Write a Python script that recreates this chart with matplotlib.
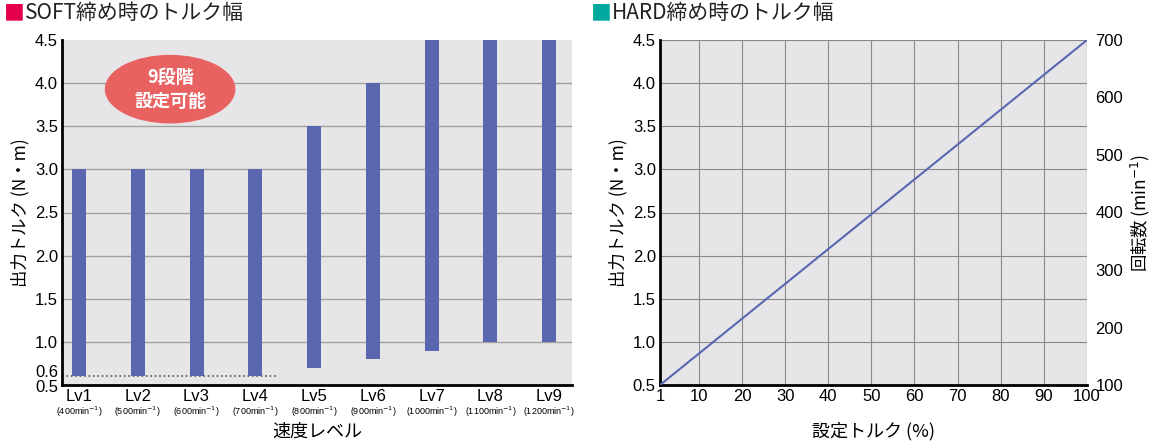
import matplotlib.pyplot as plt
from matplotlib.patches import Ellipse
import numpy as np

plt.rcParams['font.family'] = ['Noto Sans CJK JP', 'DejaVu Sans']
num_font = ['Liberation Sans', 'Noto Sans CJK JP']

# SOFT chart data
levels = ['Lv1', 'Lv2', 'Lv3', 'Lv4', 'Lv5', 'Lv6', 'Lv7', 'Lv8', 'Lv9']
speeds = ['400', '500', '600', '700', '800', '900', '1000', '1100', '1200']
torque_min = [0.6, 0.6, 0.6, 0.6, 0.7, 0.8, 0.9, 1.0, 1.0]
torque_max = [3.0, 3.0, 3.0, 3.0, 3.5, 4.0, 4.5, 4.5, 4.5]
soft_yticks = [0.5, 0.6, 1.0, 1.5, 2.0, 2.5, 3.0, 3.5, 4.0, 4.5]

# HARD chart data
hard_setting = [1, 100]
hard_torque = [0.5, 4.5]
hard_xticks = [1, 10, 20, 30, 40, 50, 60, 70, 80, 90, 100]
hard_yticks = [0.5, 1.0, 1.5, 2.0, 2.5, 3.0, 3.5, 4.0, 4.5]
rpm_ticks = [100, 200, 300, 400, 500, 600, 700]

bar_color = '#5b66b1'
bg = '#e6e6e8'

fig = plt.figure(figsize=(11.6, 4.42), dpi=100)

# ---- left chart ----
ax1 = fig.add_axes([62/1160, 1 - 385/442, 510/1160, 345/442])
ax1.set_facecolor(bg)
x = np.arange(len(levels))
ax1.bar(x, np.array(torque_max) - np.array(torque_min), bottom=torque_min,
        width=0.24, color=bar_color, zorder=3)
ax1.set_xlim(-0.29, len(levels) - 1 + 0.39)
ax1.set_ylim(0.5, 4.5)
ax1.set_yticks(soft_yticks)
# 0.5 and 0.6 are crowded, so they are drawn by hand slightly apart
ylabels = ['' if v < 1 else f'{v:.1f}' for v in soft_yticks]
ax1.set_yticklabels(ylabels, fontsize=12, family=num_font)
for v, dy in [(0.5, -0.025), (0.6, 0.045)]:
    ax1.text(-0.007, v + dy, f'{v:.1f}', transform=ax1.get_yaxis_transform(),
             ha='right', va='center', fontsize=12, family=num_font)
for v in np.arange(1.0, 4.5, 0.5):
    ax1.axhline(v, color='#a0a0a0', lw=1, zorder=1)
ax1.plot([-0.29, 3.35], [0.6, 0.6], ls=':', color='#555555', lw=1.2, zorder=2)
ax1.set_xticks(x)
ax1.set_xticklabels(levels, fontsize=12, family=num_font)
ax1.tick_params(length=0, pad=3)
for i, s in enumerate(speeds):
    ax1.text(i, -0.058, f'({s}min$^{{-1}}$)', transform=ax1.get_xaxis_transform(),
             ha='center', va='top', fontsize=6.5, family=num_font)
ax1.set_ylabel('出力トルク (N・m)', fontsize=12.5, labelpad=4)
for sp in ['top', 'right']:
    ax1.spines[sp].set_visible(False)
for sp in ['left', 'bottom']:
    ax1.spines[sp].set_linewidth(2)
ax1.add_patch(Ellipse((1.55, 3.93), 2.2, 0.78, color='#e96262', zorder=4))
ax1.text(1.55, 3.93, '9段階\n設定可能', color='white', fontsize=13,
         ha='center', va='center', linespacing=1.35, zorder=5, fontweight='bold')
fig.text(317/1160, 1 - 432/442, '速度レベル', fontsize=13, ha='center', va='center')

# ---- right chart ----
ax2 = fig.add_axes([660/1160, 1 - 385/442, 427/1160, 345/442])
ax2.set_facecolor(bg)
ax2.plot(hard_setting, hard_torque, color=bar_color, lw=1.5, zorder=3)
ax2.set_xlim(1, 100)
ax2.set_ylim(0.5, 4.5)
ax2.set_xticks(hard_xticks)
ax2.set_xticklabels([str(v) for v in hard_xticks], fontsize=12, family=num_font)
ax2.set_yticks(hard_yticks)
ax2.set_yticklabels([f'{v:.1f}' for v in hard_yticks], fontsize=12, family=num_font)
ax2.grid(True, color='#8a8a8a', lw=0.8, zorder=1)
ax2.set_axisbelow(True)
ax2.tick_params(length=0, pad=3)
ax2.set_ylabel('出力トルク (N・m)', fontsize=12.5, labelpad=4)
for sp in ['top', 'right']:
    ax2.spines[sp].set_visible(False)
for sp in ['left', 'bottom']:
    ax2.spines[sp].set_linewidth(2)
fig.text(873/1160, 1 - 431/442, '設定トルク (%)', fontsize=13, ha='center', va='center')

ax3 = ax2.twinx()
ax3.set_ylim(100, 700)
ax3.set_yticks(rpm_ticks)
ax3.set_yticklabels([str(v) for v in rpm_ticks], fontsize=12, family=num_font)
ax3.tick_params(length=0, pad=6)
ax3.set_ylabel('回転数 (min$^{-1}$)', fontsize=12.5, labelpad=4)
for sp in ['top', 'right', 'left', 'bottom']:
    ax3.spines[sp].set_visible(False)

# titles
fig.text(4/1160, 1 - 13/442, '■', color='#e4004f', fontsize=15, va='center', ha='left')
fig.text(25/1160, 1 - 13/442, 'SOFT締め時のトルク幅', color='#222222', fontsize=15, va='center', ha='left')
fig.text(591/1160, 1 - 13/442, '■', color='#00a99d', fontsize=15, va='center', ha='left')
fig.text(612/1160, 1 - 13/442, 'HARD締め時のトルク幅', color='#222222', fontsize=15, va='center', ha='left')

fig.savefig('out.png', dpi=100)
